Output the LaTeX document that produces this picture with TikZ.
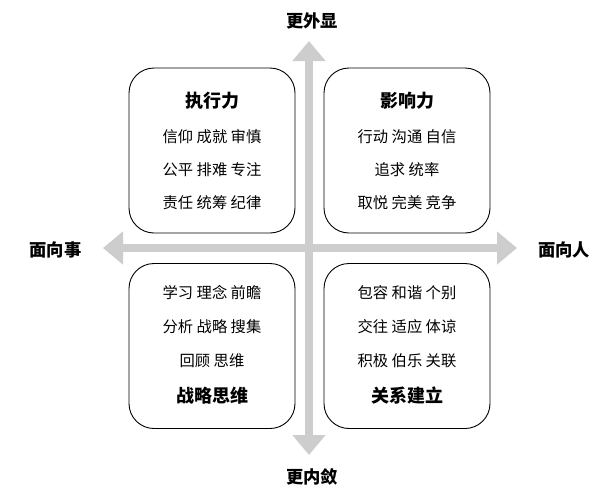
\documentclass[tikz,border=0pt]{standalone}
\usepackage{fontspec}
\setmainfont{Noto Sans CJK SC}
\usetikzlibrary{arrows.meta}
\definecolor{axisgray}{RGB}{205,205,205}
\tikzset{
  quadbox/.style={draw=black, line width=0.9pt, rounded corners=25pt, minimum width=166pt, minimum height=165pt, inner sep=0pt},
  titletext/.style={font=\fontsize{18}{21}\selectfont\bfseries, inner sep=0pt},
  bodytext/.style={font=\fontsize{15.3}{18}\selectfont, inner sep=0pt},
  axislabel/.style={font=\fontsize{17.3}{20}\selectfont\bfseries, inner sep=0pt},
  axisline/.style={draw=axisgray, line width=8.5pt, {Triangle[width=32pt,length=20pt]}-{Triangle[width=32pt,length=20pt]}}
}
\begin{document}
\begin{tikzpicture}[x=1pt,y=-1pt]
\useasboundingbox[fill=white] (0,0) rectangle (614,493);
% axes
\coordinate (top) at (309,41);
\coordinate (bottom) at (309,455);
\coordinate (left) at (103,248);
\coordinate (right) at (517,248);
\draw[axisline] (left) -- (right);
\draw[axisline] (top) -- (bottom);
% axis labels
\node[axislabel] (ltop) at (312,20.5) {更外显};
\node[axislabel] (lbottom) at (312,477) {更内敛};
\node[axislabel] (lleft) at (55.5,250) {面向事};
\node[axislabel] (lright) at (564,250) {面向人};
% boxes
\node[quadbox] (tl) at (212,150.5) {};
\node[quadbox] (tr) at (407,150.5) {};
\node[quadbox] (bl) at (212,346) {};
\node[quadbox] (br) at (407,346) {};
% top-left
\node[titletext] (tlt) at (212,101) {执行力};
\node[bodytext] (tl1) at (212,137) {信仰 成就 审慎};
\node[bodytext] (tl2) at (212,169.5) {公平 排难 专注};
\node[bodytext] (tl3) at (212,203) {责任 统筹 纪律};
% top-right
\node[titletext] (trt) at (407,101) {影响力};
\node[bodytext] (tr1) at (407,137) {行动 沟通 自信};
\node[bodytext] (tr2) at (407,169.5) {追求 统率};
\node[bodytext] (tr3) at (407,203) {取悦 完美 竞争};
% bottom-left
\node[bodytext] (bl1) at (212,293) {学习 理念 前瞻};
\node[bodytext] (bl2) at (212,327) {分析 战略 搜集};
\node[bodytext] (bl3) at (212,361) {回顾 思维};
\node[titletext] (blt) at (212,396) {战略思维};
% bottom-right
\node[bodytext] (br1) at (407,293) {包容 和谐 个别};
\node[bodytext] (br2) at (407,327) {交往 适应 体谅};
\node[bodytext] (br3) at (407,361) {积极 伯乐 关联};
\node[titletext] (brt) at (407,396) {关系建立};
\end{tikzpicture}
\end{document}
